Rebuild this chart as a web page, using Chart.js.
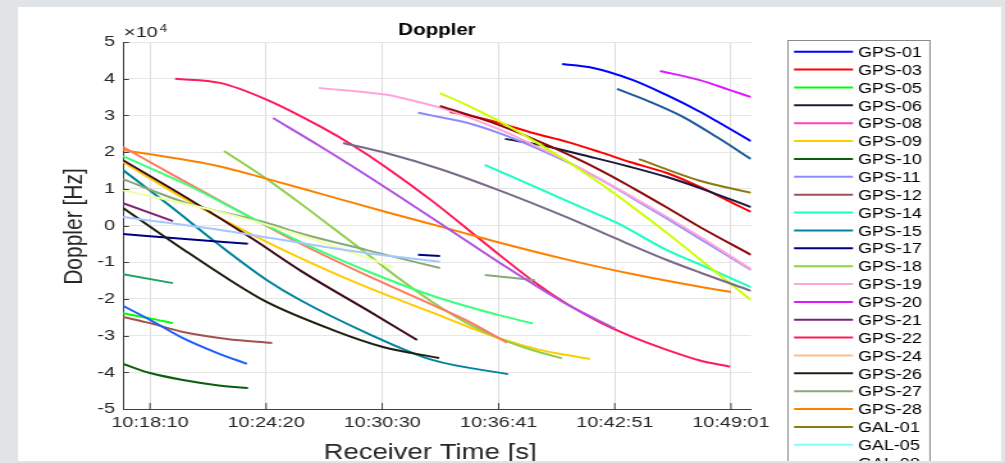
<!DOCTYPE html>
<html><head><meta charset="utf-8">
<script src="https://cdn.jsdelivr.net/npm/chart.js@4"></script>
<style>html,body{margin:0;padding:0;background:#e2e5e8;overflow:hidden}canvas{display:block}</style>
</head><body>
<canvas id="c" width="785" height="463" style="width:1005px;height:463px"></canvas>
<script>
// ---- axis / tick data ----
const xTickLabels = ['10:18:10','10:24:20','10:30:30','10:36:41','10:42:51','10:49:01'];
const xMin = 37004, xMax = 39005;           // seconds of day (10:16:44 .. 10:50:05)
const yMin = -50000, yMax = 50000, yStep = 10000;

// ---- series data: time (s of day) and Doppler (Hz) ----
const GPS01_t=[38403,38492,38629,38737,38842,38896,39005];
const GPS01_v=[44000,43100,39600,35500,31000,28400,23000];
const GPS03_t=[38046,38100,38205,38310,38419,38524,38619,38737,38842,38947,39005];
const GPS03_v=[30900,30100,27900,25200,22800,20000,17300,14300,10500,6100,3700];
const GPS05_t=[37004,37090,37163];
const GPS05_v=[-23900,-25300,-26600];
const GPS06_t=[38221,38364,38469,38619,38737,38842,39005];
const GPS06_v=[23600,21400,19200,16000,13200,10200,5000];
const GPS08_t=[];
const GPS08_v=[];
const GPS09_t=[37004,37208,37418,37568,37781,37992,38205,38332,38419,38492];
const GPS09_v=[17300,6900,-2600,-8800,-16800,-23800,-30800,-33900,-35300,-36400];
const GPS10_t=[37004,37090,37195,37303,37402];
const GPS10_v=[-37700,-40200,-42100,-43500,-44300];
const GPS11_t=[37944,38100,38205,38310,38419,38524,38629,38737,38842,39005];
const GPS11_v=[30700,28000,25100,21500,17300,12600,7400,1900,-3600,-12100];
const GPS12_t=[37004,37090,37195,37335,37479];
const GPS12_v=[-24900,-26600,-29000,-30900,-32000];
const GPS14_t=[38157,38310,38469,38578,38737,38842,39005];
const GPS14_v=[16500,10800,4800,700,-6700,-10600,-16800];
const GPS15_t=[37004,37154,37303,37463,37568,37781,37992,38231];
const GPS15_v=[15100,5300,-4800,-14900,-20300,-29300,-36700,-40500];
const GPS17_t=[37004,37202,37402,37700,37944,38014];
const GPS17_v=[-2300,-3700,-5000,null,-8000,-8300];
const GPS18_t=[37326,37463,37568,37673,37781,37886,37992,38100,38205,38310,38403];
const GPS18_v=[20300,12600,6100,-700,-7700,-14600,-21000,-26600,-30800,-34000,-36200];
const GPS19_t=[37628,37845,37886,38014,38205,38310,38419,38524,38737,38842,39005];
const GPS19_v=[37500,35600,34900,32100,26100,22000,17500,12700,2300,-3100,-11900];
const GPS20_t=[38715,38842,38938,39005];
const GPS20_v=[42100,39600,36900,35000];
const GPS21_t=[37004,37163];
const GPS21_v=[6100,1200];
const GPS22_t=[37170,37313,37463,37632,37737,37845,37992,38164,38310,38419,38524,38619,38737,38842,38938];
const GPS22_v=[40000,38860,34250,27000,21800,15700,6500,-5300,-15100,-21400,-26400,-30100,-33900,-36800,-38500];
const GPS24_t=[];
const GPS24_v=[];
const GPS26_t=[37004,37208,37345,37463,37673,37832,38011];
const GPS26_v=[4800,-7200,-14900,-20900,-28500,-33100,-36100];
const GPS27_t=[37004,37208,37463,37568,37781,38014,38080,38157,38317];
const GPS27_v=[12600,6100,700,-2100,-6700,-11600,null,-13500,-14900];
const GPS28_t=[37004,37313,37463,37632,37845,38046,38205,38419,38619,38842,38941];
const GPS28_v=[20600,16100,12700,8700,3600,-1000,-4700,-9300,-13100,-16700,-18100];
const GAL01_t=[38648,38842,39005];
const GAL01_v=[18100,12200,8900];
const GAL05_t=[];
const GAL05_v=[];
const GAL08_t=[38578,38683,38788,38896,39005];
const GAL08_v=[37200,33700,29600,24100,18100];
const GAL09_t=[38014,38205,38364,38524,38629,38737,38842,39005];
const GAL09_v=[32600,27300,21600,15100,10200,4900,-400,-8000];
const GAL11_t=[38014,38100,38205,38310,38419,38524,38629,38737,38842,39005];
const GAL11_v=[36100,32800,28300,23200,17500,11500,5000,-2000,-9200,-20300];
const GAL12_t=[37705,37845,38014,38205,38419,38565,38737,38842,39005];
const GAL12_v=[22500,19700,15400,9500,2200,-3200,-9400,-12800,-17800];
const GAL13_t=[37482,37632,37737,37877,38046,38205,38419,38572];
const GAL13_v=[29300,21600,16000,8300,-1200,-10200,-21500,-28100];
const GAL15_t=[37004,37154,37313,37463,37568,37781,37992,38100,38227];
const GAL15_v=[21400,14200,6700,-200,-4900,-13600,-21700,-25900,-31900];
const GAL19_t=[37004,37208,37418,37568,37781,37992,38205,38310];
const GAL19_v=[18900,11100,1900,-4400,-12400,-19200,-24500,-26700];
const GAL21_t=[37004,37208,37418,37577,37781,37941];
const GAL21_v=[17800,7500,-3700,-12700,-23000,-31200];
const GAL24_t=[37004,37313,37568,37864];
const GAL24_v=[9600,3700,-2600,-11300];
const GAL25_t=[37004,37313,37632,37823,38014];
const GAL25_v=[2300,-1200,-5600,-8000,-9900];
const GAL26_t=[37004,37163];
const GAL26_v=[-13300,-15700];
const GAL27_t=[37004,37090,37195,37303,37399];
const GAL27_v=[-21900,-25700,-30700,-34700,-37700];

const seriesNames=['GPS-01','GPS-03','GPS-05','GPS-06','GPS-08','GPS-09','GPS-10','GPS-11','GPS-12','GPS-14','GPS-15','GPS-17','GPS-18','GPS-19','GPS-20','GPS-21','GPS-22','GPS-24','GPS-26','GPS-27','GPS-28','GAL-01','GAL-05','GAL-08','GAL-09','GAL-11','GAL-12','GAL-13','GAL-15','GAL-19','GAL-21','GAL-24','GAL-25','GAL-26','GAL-27'];
const seriesColors=['#0000ff','#ff0000','#00ff00','#1a1a3c','#ff40c0','#ffcc00','#0b5e0b','#8c8cff','#a0524e','#19ffc4','#00849c','#000080','#8fcf4c','#ffa3dc','#dd1aff','#7d2173','#ff1a5c','#ffbb88','#1e1e0f','#88a97a','#ff8000','#8b7b12','#80ffff','#1c5a9c','#8e0b0b','#ccff00','#7b6b8b','#b253e0','#ff7b62','#3dff7c','#3d0b1c','#efffa6','#a6c8ff','#1ca462','#1f5fff'];
const seriesT=[GPS01_t,GPS03_t,GPS05_t,GPS06_t,GPS08_t,GPS09_t,GPS10_t,GPS11_t,GPS12_t,GPS14_t,GPS15_t,GPS17_t,GPS18_t,GPS19_t,GPS20_t,GPS21_t,GPS22_t,GPS24_t,GPS26_t,GPS27_t,GPS28_t,GAL01_t,GAL05_t,GAL08_t,GAL09_t,GAL11_t,GAL12_t,GAL13_t,GAL15_t,GAL19_t,GAL21_t,GAL24_t,GAL25_t,GAL26_t,GAL27_t];
const seriesV=[GPS01_v,GPS03_v,GPS05_v,GPS06_v,GPS08_v,GPS09_v,GPS10_v,GPS11_v,GPS12_v,GPS14_v,GPS15_v,GPS17_v,GPS18_v,GPS19_v,GPS20_v,GPS21_v,GPS22_v,GPS24_v,GPS26_v,GPS27_v,GPS28_v,GAL01_v,GAL05_v,GAL08_v,GAL09_v,GAL11_v,GAL12_v,GAL13_v,GAL15_v,GAL19_v,GAL21_v,GAL24_v,GAL25_v,GAL26_v,GAL27_v];

// ---- layout (canvas is drawn at 785 px wide and stretched to 1005 px) ----
const SX = 1005/785;
const sx = p => p/SX;
const plotLeft = sx(123), plotRight = sx(751), plotTop = 42, plotBottom = 409;

function hms(s){const [h,m,x]=s.split(':').map(Number);return h*3600+m*60+x;}
const xTickValues = xTickLabels.map(hms);

const datasets = seriesNames.map((n,i)=>({
  label:n,
  data: seriesT[i].map((t,j)=>({x:t,y:seriesV[i][j]})),
  borderColor: seriesColors[i],
  backgroundColor: seriesColors[i],
  borderWidth: 2,
  pointRadius: 0,
  fill:false,
  spanGaps:false,
  cubicInterpolationMode:'monotone',
  order: -i
}));

const FONT='"Liberation Sans", Arial, sans-serif';
const deco = {
  id:'deco',
  beforeDraw(chart){
    const c=chart.ctx; c.save();
    c.fillStyle='#e1e4e7'; c.fillRect(0,0,chart.width,chart.height);
    c.fillStyle='#ffffff'; c.fillRect(sx(18),7,sx(1001)-sx(18),461-7);
    c.restore();
  },
  afterDraw(chart){
    const c=chart.ctx, ca=chart.chartArea, xa=chart.scales.x, ya=chart.scales.y;
    c.save();
    // inward tick marks
    c.strokeStyle='#404040'; c.lineWidth=1;
    c.beginPath();
    ya.ticks.forEach(t=>{const y=Math.round(ya.getPixelForValue(t.value))+0.5; c.moveTo(ca.left,y); c.lineTo(ca.left+sx(6),y);});
    xa.ticks.forEach(t=>{const x=xa.getPixelForValue(t.value); c.moveTo(x,ca.bottom); c.lineTo(x,ca.bottom-6);});
    c.stroke();
    // title
    c.fillStyle='#000'; c.textAlign='center'; c.textBaseline='alphabetic';
    c.font='bold 16px '+FONT;
    c.fillText('Doppler', sx(437), 35);
    // exponent
    c.fillStyle='#262626'; c.textAlign='left';
    c.font='15.5px '+FONT;
    c.fillText('\u00d710', sx(124), 37);
    const w=c.measureText('\u00d710').width;
    c.font='10.5px '+FONT;
    c.fillText('4', sx(124)+w+sx(2), 31.5);
    // axis titles
    c.font='21.5px '+FONT; c.textAlign='center';
    c.fillText('Receiver Time [s]', sx(430), 459);
    c.save(); c.translate(sx(82), 226.5); c.rotate(-Math.PI/2);
    c.font='21px '+FONT;
    c.fillText('Doppler [Hz]', 0, 0); c.restore();
    // legend
    const lx0=sx(787), lx1=sx(929), ly0=40.5;
    c.fillStyle='#fff'; c.fillRect(lx0,ly0,lx1-lx0,480-ly0);
    c.strokeStyle='#8a8a8a'; c.lineWidth=1;
    c.strokeRect(Math.round(lx0)+0.5,ly0,lx1-lx0,480-ly0);
    c.font='14px '+FONT; c.textAlign='left';
    chart.data.datasets.forEach((d,i)=>{
      const y=51.7+i*17.87;
      c.strokeStyle=d.borderColor; c.lineWidth=2;
      c.beginPath(); c.moveTo(sx(794),y); c.lineTo(sx(853),y); c.stroke();
      c.fillStyle='#000'; c.fillText(d.label, sx(858), y+5.2);
    });
    // bottom frame strip
    c.fillStyle='#e1e4e7'; c.fillRect(0,461,chart.width,chart.height-461);
    c.restore();
  }
};

new Chart(document.getElementById('c'),{
  type:'line',
  data:{datasets},
  options:{
    responsive:false, animation:false, devicePixelRatio:1,
    layout:{padding:{left:0,top:plotTop,right:785-plotRight,bottom:0}},
    plugins:{legend:{display:false},title:{display:false},tooltip:{enabled:false}},
    scales:{
      x:{type:'linear',min:xMin,max:xMax,
        afterBuildTicks:s=>{s.ticks=xTickValues.map(v=>({value:v}));},
        afterFit:s=>{s.height=463-plotBottom;},
        ticks:{autoSkip:false,maxRotation:0,padding:4,color:'#262626',
          font:{family:FONT,size:15.5},
          callback:v=>{const k=xTickValues.indexOf(v);return k>=0?xTickLabels[k]:'';}},
        grid:{color:'#dedede',drawTicks:false,lineWidth:1},
        border:{display:true,color:'#404040',width:1}},
      y:{type:'linear',min:yMin,max:yMax,
        afterFit:s=>{s.width=plotLeft;},
        ticks:{stepSize:yStep,padding:sx(8),color:'#262626',
          font:{family:FONT,size:15.5},
          callback:v=>String(v/10000)},
        grid:{color:'#e6e6e6',drawTicks:false,lineWidth:1},
        border:{display:true,color:'#404040',width:1}}
    }
  },
  plugins:[deco]
});
</script>
</body></html>
